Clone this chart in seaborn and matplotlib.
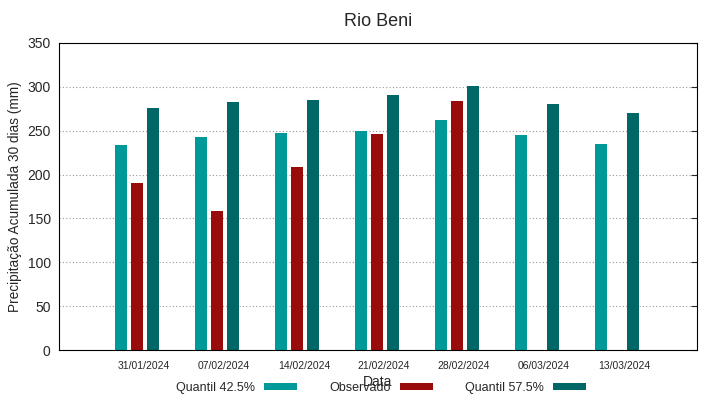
import matplotlib
matplotlib.use('Agg')
import matplotlib.pyplot as plt
import matplotlib.transforms as mtransforms
from matplotlib.patches import Patch
import seaborn as sns
import numpy as np
import pandas as pd

datas = ['31/01/2024', '07/02/2024', '14/02/2024', '21/02/2024',
         '28/02/2024', '06/03/2024', '13/03/2024']
quantil_425 = [234, 243, 247, 250, 262, 245, 235]
observado = [190, 158, 209, 246, 284, np.nan, np.nan]
quantil_575 = [276, 283, 285, 291, 301, 280, 270]

series = ['Quantil 42.5%', 'Observado', 'Quantil 57.5%']
cores = ['#009999', '#990c0c', '#006666']

df = pd.DataFrame({
    'Data': datas * 3,
    'valor': quantil_425 + observado + quantil_575,
    'serie': [s for s in series for _ in datas],
})

sns.set_style('white')
plt.rcParams['font.family'] = ['Liberation Sans', 'DejaVu Sans']

fig = plt.figure(figsize=(7.19, 3.99), dpi=100)
ax = fig.add_axes([59/719, 49/399, 638/719, 307/399])

sns.barplot(data=df, x='Data', y='valor', hue='serie', hue_order=series,
            palette=cores, width=0.6, gap=0.22, linewidth=0, saturation=1,
            legend=False, ax=ax)

ax.set_xlim(-0.975, 7.0)
ax.set_ylim(0, 350)
ax.set_yticks(range(0, 351, 50))
ax.yaxis.grid(True, linestyle=(0, (1, 2)), color='#999999', linewidth=0.8)
ax.set_axisbelow(True)

for s in ax.spines.values():
    s.set_color('black')
    s.set_linewidth(0.8)

ax.tick_params(axis='y', direction='in', length=4, labelsize=10, pad=6,
               right=True)
ax.tick_params(axis='x', direction='in', length=4, labelsize=7.5, pad=8)
offset = mtransforms.ScaledTranslation(7/100, 0, fig.dpi_scale_trans)
for lbl in ax.get_xticklabels():
    lbl.set_transform(lbl.get_transform() + offset)

ax.set_title('Rio Beni', fontsize=13, pad=12)
ax.set_xlabel('Data', fontsize=10, labelpad=3)
ax.set_ylabel('Precipitação Acumulada 30 dias (mm)', fontsize=9.8, labelpad=4)

handles = [Patch(facecolor=c, edgecolor='none') for c in cores]
fig.legend(handles, series, loc='center', bbox_to_anchor=(381/719, 1 - 388/399),
           ncol=3, frameon=False, markerfirst=False, fontsize=9,
           handlelength=2.64, handleheight=0.5, columnspacing=2.6,
           handletextpad=0.7)

fig.savefig('out.png', dpi=100)
